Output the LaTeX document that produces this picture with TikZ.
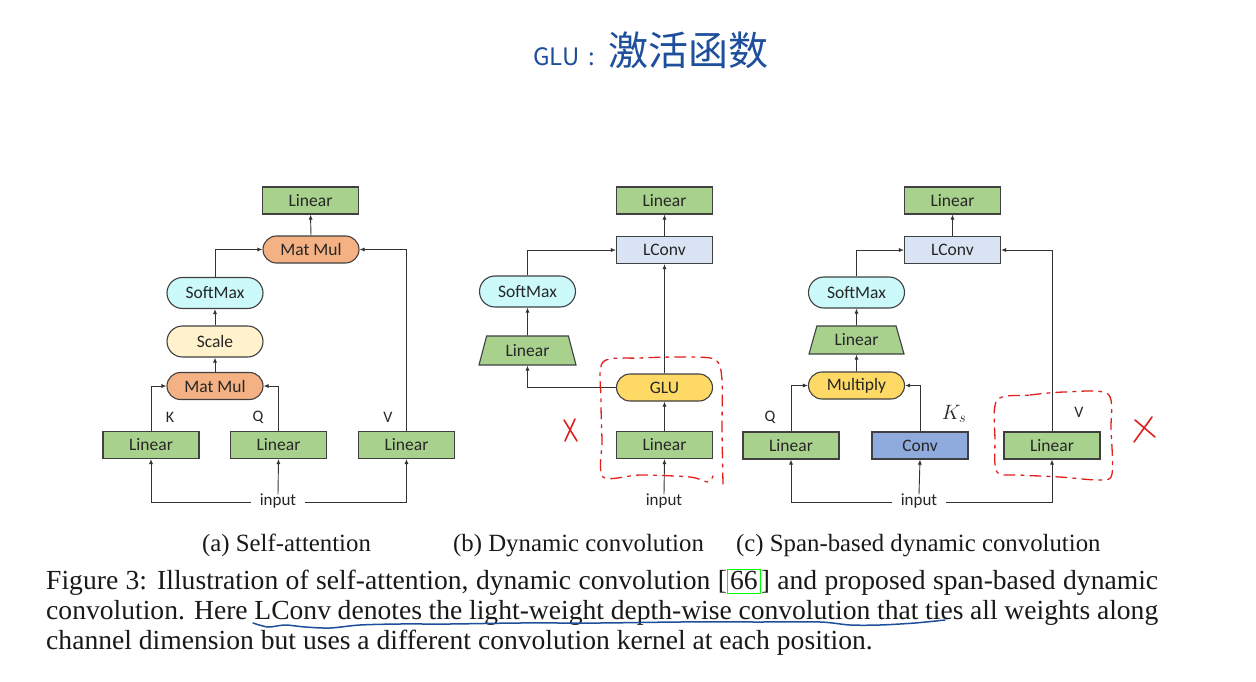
\documentclass[tikz,border=0pt]{standalone}
\usepackage{fontspec}
\setmainfont{Liberation Serif}
\newfontfamily\diagfont{Carlito}
\newfontfamily\cjkfont{Noto Sans CJK SC}
\usetikzlibrary{arrows.meta,shapes.geometric}
\definecolor{lgreen}{HTML}{A9D18E}
\definecolor{orangeF}{HTML}{F4B183}
\definecolor{cyanF}{HTML}{CCFAFA}
\definecolor{creamF}{HTML}{FFF2CC}
\definecolor{lblueF}{HTML}{DAE3F3}
\definecolor{yellowF}{HTML}{FFD966}
\definecolor{convF}{HTML}{8FAADC}
\definecolor{edgeC}{HTML}{404040}
\definecolor{arrC}{HTML}{333333}
\definecolor{annRed}{HTML}{E0201C}
\definecolor{annBlue}{HTML}{1E4F9C}
\definecolor{citeGreen}{HTML}{00FF00}
\begin{document}
\begin{tikzpicture}[x=1pt,y=-1pt,
  box/.style={draw=edgeC, line width=1.1pt, minimum width=96pt, minimum height=27pt, inner sep=0pt,
    font=\diagfont\fontsize{17.5}{17.5}\selectfont, text=black!85},
  greenbox/.style={box, fill=lgreen},
  pill/.style={box, rounded corners=13.5pt},
  tallpill/.style={box, minimum height=31pt, rounded corners=15.5pt},
  trap/.style={draw=edgeC, line width=1.1pt, fill=lgreen, shape=trapezium, trapezium stretches body=true,
    inner sep=0pt, font=\diagfont\fontsize{17.5}{17.5}\selectfont, text=black!85},
  lbl/.style={font=\diagfont\fontsize{16}{16}\selectfont, text=black!85, inner sep=0pt},
  inlbl/.style={font=\diagfont\fontsize{17}{17}\selectfont, text=black!85, inner xsep=9pt, inner ysep=0pt,
    text height=11pt, text depth=4pt},
  arr/.style={draw=arrC, line width=0.9pt, -{Latex[length=5pt,width=4pt]}},
  redann/.style={draw=annRed, line width=1.3pt, dash pattern=on 11pt off 6pt on 3pt off 6pt, line cap=round},
  redx/.style={draw=annRed, line width=1.6pt, line cap=round},
  subcap/.style={font=\fontsize{24.8}{30}\selectfont, inner sep=0pt, anchor=base west, text=black!90},
  captext/.style={font=\fontsize{27.6}{30}\selectfont, inner sep=0pt, anchor=base west, text=black!90},
]
\useasboundingbox (0,0) rectangle (1256,682);
\fill[white] (0,0) rectangle (1256,682);

% ---------- handwritten note ----------
\node[anchor=base west, inner sep=0pt, text=annBlue] (note) at (533,66)
  {\cjkfont\fontsize{24}{24}\selectfont GLU\hspace{9pt}:\hspace{14pt}\fontsize{40}{40}\selectfont 激活函数};

% ---------- (a) self-attention ----------
\node[greenbox] (aout) at (310.5,200.5) {Linear};
\node[pill, fill=orangeF] (amm2) at (311,249.5) {Mat Mul};
\node[tallpill, fill=cyanF] (asm) at (215,293) {SoftMax};
\node[tallpill, fill=creamF] (asc) at (215,341.5) {Scale};
\node[pill, fill=orangeF] (amm1) at (215,386) {Mat Mul};
\node[greenbox] (ak) at (151,445) {Linear};
\node[greenbox] (aq) at (278.5,445) {Linear};
\node[greenbox] (av) at (406.5,445) {Linear};
\node[inlbl] (ain) at (278,502) {input};
\node[lbl] (aK) at (170,417) {K};
\node[lbl] (aQ) at (258,417) {Q};
\node[lbl] (aV) at (388,417) {V};
\draw[arr] (ak.north) |- (amm1.west);
\draw[arr] (aq.north) |- (amm1.east);
\draw[arr] (amm1.north) -- (asc.south);
\draw[arr] (asc.north) -- (asm.south);
\draw[arr] (asm.north) |- (amm2.west);
\draw[arr] (av.north) |- (amm2.east);
\draw[arr] (amm2.north) -- (aout.south);
\draw[arr] (ain.west) -| (ak.south);
\draw[arr] (ain.east) -| (av.south);
\draw[arr] (ain.north) -- (aq.south);

% ---------- (b) dynamic convolution ----------
\node[greenbox] (bout) at (664.5,200.5) {Linear};
\node[box, fill=lblueF] (blc) at (664.5,250) {LConv};
\node[tallpill, fill=cyanF] (bsm) at (527.5,291.5) {SoftMax};
\node[trap, trapezium angle=58, minimum width=97pt, minimum height=29pt] (btr) at (527.5,350.5) {Linear};
\node[pill, fill=yellowF] (bglu) at (664.5,387.5) {GLU};
\node[greenbox] (blin) at (664.5,445) {Linear};
\node[inlbl] (bin) at (664,502) {input};
\draw[arr] (bin.north) -- (blin.south);
\draw[arr] (blin.north) -- (bglu.south);
\draw[arr] (bglu.north) -- (blc.south);
\draw[arr] (bglu.west) -| (btr.south);
\draw[arr] (btr.north) -- (bsm.south);
\draw[arr] (bsm.north) |- (blc.west);
\draw[arr] (blc.north) -- (bout.south);

% ---------- (c) span-based dynamic convolution ----------
\node[greenbox] (cout) at (952.5,200.5) {Linear};
\node[box, fill=lblueF] (clc) at (952.5,250) {LConv};
\node[tallpill, fill=cyanF] (csm) at (856.5,292.5) {SoftMax};
\node[trap, trapezium angle=57, minimum width=95pt, minimum height=28pt] (ctr) at (856.5,340) {Linear};
\node[pill, fill=yellowF] (cmu) at (856.5,385.5) {Multiply};
\node[greenbox] (cq) at (791,445.5) {Linear};
\node[box, fill=convF] (ccv) at (920,445.5) {Conv};
\node[greenbox] (cv) at (1052,445.5) {Linear};
\node[inlbl] (cin) at (919,502) {input};
\node[lbl] (cQ) at (770,417) {Q};
\node[inlbl, inner xsep=0pt, font=\fontsize{20}{20}\selectfont] (cK) at (954,416) {$K_s$};
\node[lbl] (cV) at (1079,412) {V};
\draw[arr] (cin.west) -| (cq.south);
\draw[arr] (cin.east) -| (cv.south);
\draw[arr] (cin.north) -- (ccv.south);
\draw[arr] (cq.north) |- (cmu.west);
\draw[arr] (ccv.north) |- (cmu.east);
\draw[arr] (cmu.north) -- (ctr.south);
\draw[arr] (ctr.north) -- (csm.south);
\draw[arr] (csm.north) |- (clc.west);
\draw[arr] (cv.north) |- (clc.east);
\draw[arr] (clc.north) -- (cout.south);

% ---------- red annotations ----------
\draw[redann] plot[smooth] coordinates {(723,484) (722,430) (722,380) (716,360) (690,357) (640,358) (603,362) (601,400) (602,440) (603,477) (640,475) (690,477) (708,482) (713,476)};
\draw[redx] (564,420) -- (577,441);
\draw[redx] (575,419) -- (565,441);
\draw[redann] plot[smooth cycle] coordinates {(997,400) (1030,395) (1065,392) (1108,394) (1111,430) (1112,474) (1100,480) (1060,477) (1020,475) (997,472) (995,440)};
\draw[redx] (1135,420) -- (1155,437);
\draw[redx] (1152,417) -- (1134,442);

% ---------- captions ----------
\node[subcap] (capa) at (202,551) {(a) Self-attention};
\node[subcap] (capb) at (453,551) {(b) Dynamic convolution};
\node[subcap] (capc) at (736,551) {(c) Span-based dynamic convolution};
\node[captext] (cap1) at (46,589) {\hbox to 1112pt{Figure 3: Illustration of self-attention, dynamic convolution [\setlength{\fboxsep}{0pt}\setlength{\fboxrule}{1.2pt}\fcolorbox{citeGreen}{white}{\rule[-4pt]{0pt}{23pt}\hspace{2pt}66\hspace{2pt}}] and proposed span-based dynamic}};
\node[captext] (cap2) at (46,619) {\hbox to 1112pt{convolution. Here LConv denotes the light-weight depth-wise convolution that ties all weights along}};
\node[captext] (cap3) at (46,649) {channel dimension but uses a different convolution kernel at each position.};

% ---------- blue underline ----------
\draw[draw=annBlue, line width=1.5pt, line cap=round] plot[smooth] coordinates {(253,623) (268,627) (285,625) (305,627) (330,628) (360,625) (400,624) (450,624) (520,623) (600,623) (680,622) (760,622) (820,622) (850,625) (880,625) (915,623) (945,620)};
\end{tikzpicture}
\end{document}
